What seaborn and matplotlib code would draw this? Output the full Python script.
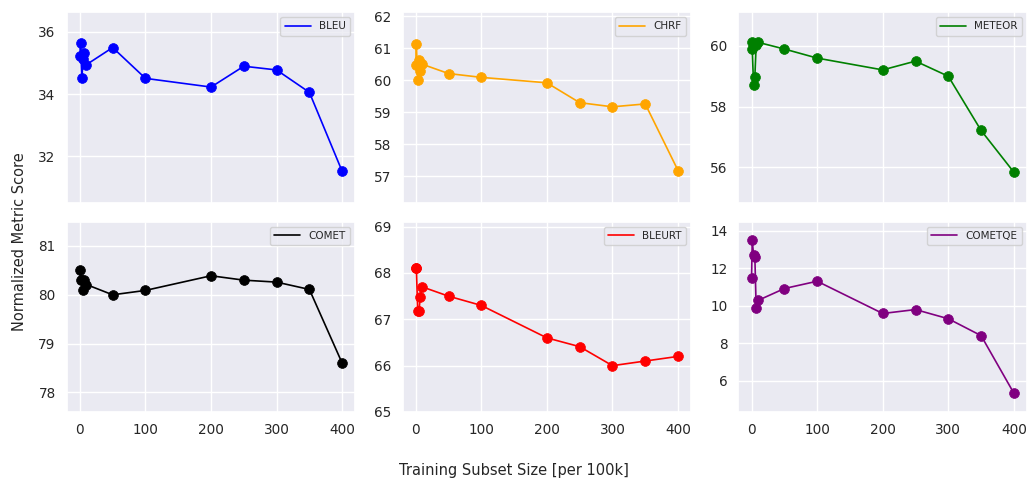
import numpy as np
import pandas as pd
import matplotlib
matplotlib.use("Agg")
import matplotlib.pyplot as plt
import seaborn as sns

subset_sizes = [0, 1, 3, 5, 7, 10, 50, 100, 200, 250, 300, 350, 400]

bleu = [35.23, 35.64, 34.51, 35.13, 35.32, 34.95, 35.50, 34.51, 34.23, 34.90, 34.78, 34.06, 31.52]
chrf = [60.47, 61.13, 60.00, 60.62, 60.28, 60.50, 60.21, 60.09, 59.92, 59.30, 59.17, 59.26, 57.18]
meteor = [60.12, 59.90, 58.72, 58.99, 60.03, 60.12, 59.90, 59.60, 59.21, 59.50, 59.00, 57.21, 55.83]
comet = [80.50, 80.30, 80.30, 80.09, 80.30, 80.21, 80.00, 80.09, 80.39, 80.30, 80.26, 80.11, 78.60]
bleurt = [68.11, 68.10, 67.19, 67.19, 67.49, 67.70, 67.50, 67.30, 66.60, 66.41, 66.00, 66.10, 66.20]
cometqe = [11.47, 13.48, 12.72, 12.58, 9.88, 10.28, 10.91, 11.30, 9.58, 9.79, 9.30, 8.40, 5.33]

metric_names = ["BLEU", "CHRF", "METEOR", "COMET", "BLEURT", "COMETQE"]
metric_values = [bleu, chrf, meteor, comet, bleurt, cometqe]
metric_colors = ["blue", "orange", "green", "black", "red", "purple"]

sns.set_theme(style="darkgrid")
plt.rcParams['font.family'] = ['DejaVu Sans']

fig, axes = plt.subplots(2, 3, figsize=(10.27, 4.83), dpi=100, sharex=True)

for ax, name, vals, color in zip(axes.flat, metric_names, metric_values, metric_colors):
    df = pd.DataFrame({"x": subset_sizes, "y": vals})
    sns.lineplot(data=df, x="x", y="y", ax=ax, color=color, label=name,
                 linewidth=1.2, sort=False, estimator=None)
    sns.scatterplot(data=df, x="x", y="y", ax=ax, color=color, s=50,
                    edgecolor=color, linewidth=0.5, legend=False, zorder=3)
    ax.set_ylim(min(vals) - 1, max(vals) + 1)
    ax.set_xlabel("")
    ax.set_ylabel("")
    ax.tick_params(axis="both", labelsize=9.8, pad=2)
    ax.legend(loc="upper right", fontsize=7.5, handlelength=2.5)

axes[0, 0].set_yticks([32, 34, 36])
axes[1, 0].set_yticks([78, 79, 80, 81])
for ax in axes[1]:
    ax.set_xticks([0, 100, 200, 300, 400])

fig.supxlabel("Training Subset Size [per 100k]", fontsize=10.5, y=0.01)
fig.supylabel("Normalized Metric Score", fontsize=10.5, x=0.012)
fig.subplots_adjust(left=0.065, right=1.0, top=0.975, bottom=0.147, wspace=0.164, hspace=0.1)

fig.savefig("out.png", dpi=100)
